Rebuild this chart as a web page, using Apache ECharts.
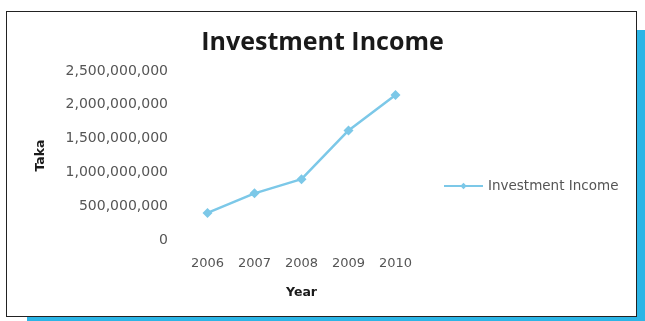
<!DOCTYPE html>
<html>
<head>
<meta charset="utf-8">
<script src="https://cdn.jsdelivr.net/npm/echarts@6/dist/echarts.min.js"></script>
<style>
  html, body { margin: 0; padding: 0; background: #ffffff; }
  #stage { position: relative; width: 645px; height: 321px; overflow: hidden; }
  #shadow { position: absolute; left: 27px; top: 30px; width: 640px; height: 320px; background: #2cb5e6; }
  #card { position: absolute; left: 6px; top: 11px; width: 629px; height: 304px; background: #ffffff; border: 1.5px solid #222222; }
  #chart { position: absolute; left: 0; top: 0; width: 645px; height: 321px; }
</style>
</head>
<body>
<div id="stage">
  <div id="shadow"></div>
  <div id="card"></div>
  <div id="chart"></div>
</div>
<script>
// Investment income by year, in Taka
const years = ['2006', '2007', '2008', '2009', '2010'];
const investmentIncome = [400000000, 690000000, 900000000, 1620000000, 2145000000];
const yTicks = [0, 500000000, 1000000000, 1500000000, 2000000000, 2500000000];

const lineColor = '#7cc8e8';
const labelFont = 'DejaVu Sans';

function withCommas(v) {
  return String(v).replace(/\B(?=(\d{3})+(?!\d))/g, ',');
}

const chart = echarts.init(document.getElementById('chart'), null, { renderer: 'canvas' });
chart.setOption({
  backgroundColor: 'transparent',
  animation: false,
  title: {
    text: 'Investment Income',
    left: 'center',
    top: 25,
    textStyle: { fontFamily: 'Open Sans', fontWeight: 'bold', fontSize: 25, color: '#1a1a1a' }
  },
  legend: {
    left: 443,
    top: 179,
    padding: 0,
    itemWidth: 39,
    itemHeight: 8,
    data: ['Investment Income'],
    textStyle: { fontFamily: labelFont, fontSize: 13.5, color: '#555555' }
  },
  grid: { left: 184, right: 226, top: 71, bottom: 81, containLabel: false },
  xAxis: {
    type: 'category',
    data: years,
    boundaryGap: true,
    axisLine: { show: false },
    axisTick: { show: false },
    axisLabel: { margin: 17, fontFamily: labelFont, fontSize: 13, color: '#555555' },
    name: 'Year',
    nameLocation: 'middle',
    nameGap: 46,
    nameTextStyle: { fontFamily: 'DejaVu Sans', fontWeight: 'bold', fontSize: 12.5, color: '#1a1a1a' }
  },
  yAxis: {
    type: 'value',
    min: yTicks[0],
    max: yTicks[yTicks.length - 1],
    interval: yTicks[1] - yTicks[0],
    axisLine: { show: false },
    axisTick: { show: false },
    splitLine: { show: false },
    axisLabel: {
      margin: 16,
      fontFamily: labelFont,
      fontSize: 14,
      color: '#555555',
      formatter: withCommas
    },
    name: 'Taka',
    nameLocation: 'middle',
    nameGap: 137,
    nameRotate: 90,
    nameTextStyle: { fontFamily: 'DejaVu Sans', fontWeight: 'bold', fontSize: 12.5, color: '#1a1a1a' }
  },
  series: [{
    name: 'Investment Income',
    type: 'line',
    data: investmentIncome,
    symbol: 'diamond',
    symbolSize: 10,
    lineStyle: { color: lineColor, width: 2.5 },
    itemStyle: { color: lineColor }
  }]
});
</script>
</body>
</html>
